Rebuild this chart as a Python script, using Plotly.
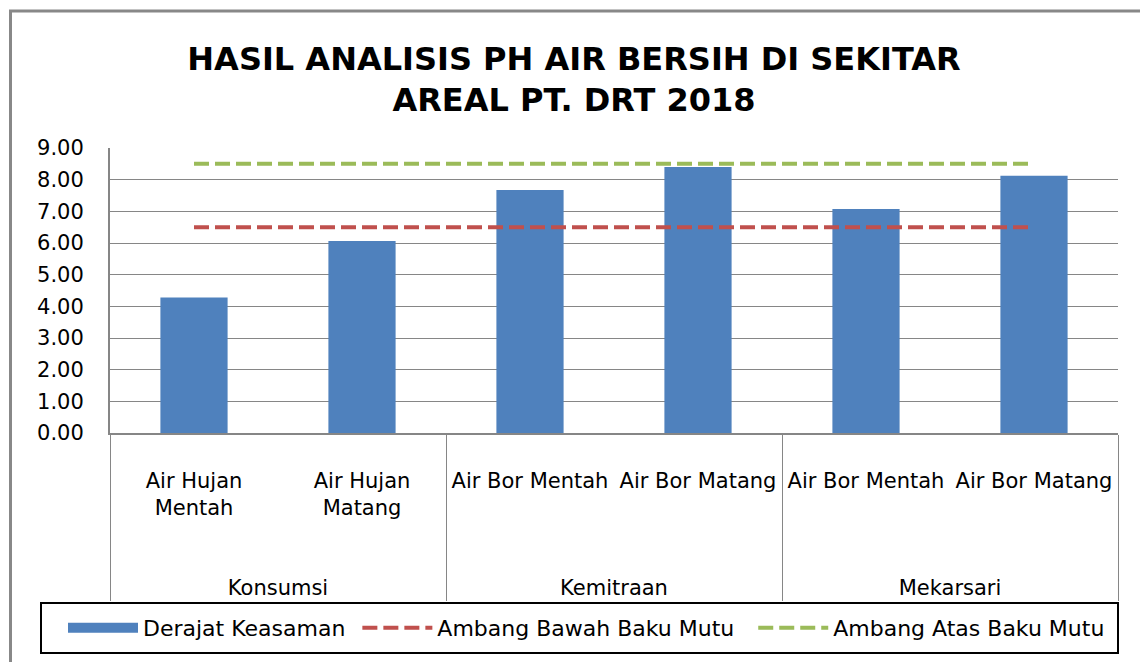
import plotly.graph_objects as go

# ---- data ----
groups = ["Konsumsi", "Konsumsi", "Kemitraan", "Kemitraan", "Mekarsari", "Mekarsari"]
subcats = ["Air Hujan<br>Mentah", "Air Hujan<br>Matang", "Air Bor Mentah",
           "Air Bor Matang", "Air Bor Mentah", "Air Bor Matang"]
ph_values = [4.28, 6.06, 7.67, 8.40, 7.07, 8.12]
ambang_bawah = [6.5, 6.5, 6.5, 6.5, 6.5, 6.5]
ambang_atas = [8.5, 8.5, 8.5, 8.5, 8.5, 8.5]
y_ticks = [0, 1, 2, 3, 4, 5, 6, 7, 8, 9]
title_text = "HASIL ANALISIS PH AIR BERSIH DI SEKITAR<br>AREAL PT. DRT 2018"
series_names = ["Derajat Keasaman", "Ambang Bawah Baku Mutu", "Ambang Atas Baku Mutu"]

NB = "\u00a0"
OFF = 8  # page body margin
W, H = 1140, 654
L, R, T, B = 102, 30, 140, 229
pw, ph = W - L - R, H - T - B


def px(wx):
    return (wx - OFF - L) / pw


def py(wy):
    return (H - B - (wy - OFF)) / ph


FONT = "DejaVu Sans"


def pad_label(s):
    # one blank line above, blank lines below so every label spans 5 lines
    n = s.count("<br>") + 1
    return NB + "<br>" + s + ("<br>" + NB) * (4 - n)


sub_labels = [pad_label(s) for s in subcats]
x_multi = [groups, sub_labels]

fig = go.Figure()
fig.add_trace(go.Bar(x=x_multi, y=ph_values, name=series_names[0], showlegend=False,
                     marker=dict(color="#4F81BD", line=dict(width=0))))
# legend proxy for the bar series (wide rectangle symbol)
fig.add_trace(go.Scatter(x=x_multi, y=[None] * len(ph_values), name=series_names[0] + NB,
                         mode="lines", line=dict(color="#4F81BD", width=16),
                         hoverinfo="skip"))
fig.add_trace(go.Scatter(x=x_multi, y=ambang_bawah, name=series_names[1] + NB * 2,
                         mode="lines", line=dict(color="#C0504D", width=4, dash="15px,6px")))
fig.add_trace(go.Scatter(x=x_multi, y=ambang_atas, name=series_names[2],
                         mode="lines", line=dict(color="#9BBB59", width=4, dash="15px,6px")))

fig.update_layout(
    width=W, height=H,
    margin=dict(l=L, r=R, t=T, b=B, autoexpand=False),
    paper_bgcolor="white", plot_bgcolor="white",
    font=dict(family=FONT, size=21, color="black"),
    bargap=0.6,
    title=dict(text=title_text, x=(574 - OFF) / W, xref="container", xanchor="center",
               y=1 - 61.8 / H, yanchor="middle",
               font=dict(family=FONT, size=32, color="black", weight="bold")),
    showlegend=True,
    legend=dict(orientation="h", x=px(63), xanchor="left", y=py(628), yanchor="middle",
                bgcolor="rgba(0,0,0,0)", borderwidth=0, itemwidth=70,
                font=dict(family=FONT, size=22, color="black"),
                traceorder="normal"),
    xaxis=dict(type="multicategory", showgrid=False, showline=True, linecolor="#868686",
               linewidth=2, ticks="", showdividers=True, dividercolor="#868686",
               dividerwidth=1, tickfont=dict(family=FONT, size=21, color="black")),
    yaxis=dict(range=[0, 9], tickvals=y_ticks, tickformat=".2f", showgrid=True,
               gridcolor="#868686", gridwidth=1, showline=True, linecolor="#868686",
               linewidth=2, ticks="outside", ticklen=20, tickcolor="rgba(0,0,0,0)",
               zeroline=False, tickfont=dict(family=FONT, size=21, color="black")),
    shapes=[
        dict(type="rect", xref="paper", yref="paper", x0=px(10.5), x1=px(1143.5),
             y0=py(672), y1=py(11), line=dict(color="#888888", width=3),
             fillcolor="rgba(0,0,0,0)", layer="below"),
        dict(type="rect", xref="paper", yref="paper", x0=px(41), x1=px(1118),
             y0=py(653), y1=py(603), line=dict(color="black", width=2),
             fillcolor="rgba(0,0,0,0)", layer="above"),
    ],
)

fig.write_html("out.html")
